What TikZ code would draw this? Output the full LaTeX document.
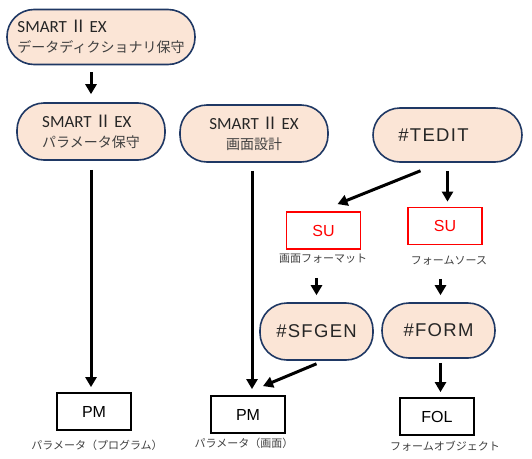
\documentclass[tikz,border=0pt]{standalone}
\usepackage{fontspec}
\setmainfont{Carlito}
\newfontfamily\jp{Noto Sans CJK JP}
\newfontfamily\arialsp[LetterSpace=7]{Liberation Sans}
\newfontfamily\arial{Liberation Sans}
\usetikzlibrary{arrows.meta,positioning}
\definecolor{navy}{HTML}{1F3864}
\definecolor{peach}{HTML}{FBE5D6}
\definecolor{jpgray}{HTML}{404040}
\newcommand{\smartex}{SMART\,{\jp Ⅱ}\,EX}
\tikzset{
    proc/.style = {draw = navy, line width = 1.6pt, fill = peach, rounded corners = 27pt,
        inner sep = 0pt, font = \fontsize{17}{20}\selectfont, text = black!85},
    tool/.style = {proc, font = \arialsp\fontsize{18.5}{20}\selectfont},
    filebox/.style = {draw, line width = 1.8pt, minimum width = 74pt, minimum height = 37pt,
        inner sep = 0pt, font = \arial\fontsize{16}{18}\selectfont},
    subox/.style = {filebox, draw = red, text = red},
    lab/.style = {font = \jp\fontsize{11}{13}\selectfont, text = jpgray, inner sep = 0pt},
    arr/.style = {line width = 3pt, -{Triangle[length = 10pt, width = 11pt]}}
}
\begin{document}
\begin{tikzpicture}[x = 1pt, y = -1pt]
        \useasboundingbox (0, 0) rectangle (532, 458);

        % programs
        \node[proc, minimum width = 188pt, minimum height = 55pt, align = left] (dict) at (101, 37)
            {\smartex\\{\jp\fontsize{14}{20}\selectfont\color{jpgray}データディクショナリ保守}};
        \node[proc, minimum width = 148pt, minimum height = 57pt, align = left] (param) at (91, 131.5)
            {\smartex\\{\jp\fontsize{14}{20}\selectfont\color{jpgray}パラメータ保守}};
        \node[proc, minimum width = 148pt, minimum height = 57pt, align = center] (screen) at (254, 133.5)
            {\smartex\\{\jp\fontsize{14}{20}\selectfont\color{jpgray}画面設計}};
        \node[tool, minimum width = 149pt, minimum height = 54pt] (tedit) at (447.5, 135) {\#TEDIT\hspace*{28pt}};
        \node[tool, minimum width = 113pt, minimum height = 57pt] (sfgen) at (316.5, 331.5) {\#SFGEN};
        \node[tool, minimum width = 113pt, minimum height = 55pt] (form) at (438.5, 330.5) {\#FORM};

        % files
        \node[subox] (su1) at (323.5, 230.5) {SU};
        \node[lab] (su1lab) at (323, 259) {画面フォーマット};
        \node[subox] (su2) at (445, 226) {SU};
        \node[lab] (su2lab) at (449, 261) {フォームソース};
        \node[filebox] (pm1) at (94, 411.5) {PM};
        \node[lab] (pm1lab) at (97, 445) {パラメータ（プログラム）};
        \node[filebox] (pm2) at (248, 414.5) {PM};
        \node[lab] (pm2lab) at (244, 443) {パラメータ（画面）};
        \node[filebox] (fol) at (437, 416.5) {FOL};
        \node[lab] (follab) at (445, 446) {フォームオブジェクト};

        % arrows
        \draw[arr, shorten < = 7pt, shorten > = 8pt] (param.north |- dict.south) -- (param.north);
        \draw[arr, shorten < = 9pt, shorten > = 5pt] (param.south) -- (param.south |- pm1.north);
        \draw[arr, shorten < = 8pt, shorten > = 6pt] ([xshift = -2pt]screen.south) -- ([xshift = -2pt]screen.south |- pm2.north);
        \draw[arr] ([shift = {(-27, 8)}]tedit.south) -- ([shift = {(14, -7)}]su1.north);
        \draw[arr, shorten < = 8pt, shorten > = 5pt] (tedit.south) -- (tedit.south |- su2.north);
        \draw[arr, shorten < = 14pt, shorten > = 7pt] (sfgen.north |- su1lab.south) -- (sfgen.north);
        \draw[arr, shorten < = 13pt, shorten > = 7pt] ([xshift = 2pt]form.north |- su2lab.south) -- ([xshift = 2pt]form.north);
        \draw[arr] ([shift = {(0, 3)}]sfgen.south) -- ([shift = {(15, -9)}]pm2.north);
        \draw[arr, shorten < = 4pt, shorten > = 5pt] ([xshift = 2pt]form.south) -- ([xshift = 2pt]form.south |- fol.north);

    \end{tikzpicture}
\end{document}
